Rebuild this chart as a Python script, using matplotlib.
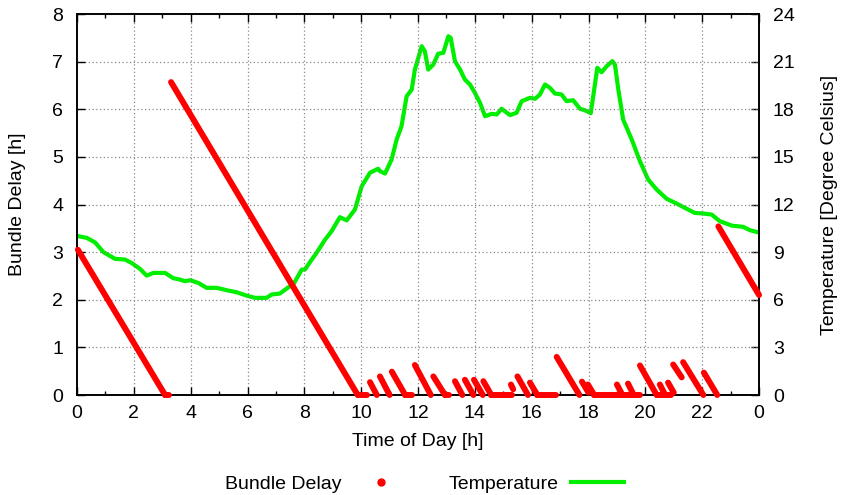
import matplotlib
matplotlib.use("Agg")
import matplotlib.pyplot as plt
from matplotlib.lines import Line2D
from matplotlib.ticker import MultipleLocator

plt.rcParams['font.family'] = ['Liberation Sans', 'DejaVu Sans']
plt.rcParams['font.size'] = 14

# ---- Bundle delay: sawtooth segments (start time, start delay, end time, end delay) ----
delay_t0 = [0.03, 3.10, 3.31, 9.88, 10.31, 10.66, 11.08, 11.55, 11.89, 12.54, 12.95,
            13.30, 13.65, 13.97, 14.30, 14.58, 15.27, 15.50, 15.94, 16.20, 16.88,
            17.77, 17.98, 18.20, 19.00, 19.39, 19.81, 20.40, 20.51, 20.80, 20.98,
            21.33, 22.06, 22.57]
delay_d0 = [3.05, 0.00, 6.57, 0.00, 0.27, 0.39, 0.49, 0.00, 0.63, 0.39, 0.00,
            0.29, 0.32, 0.32, 0.29, 0.00, 0.22, 0.39, 0.26, 0.00, 0.80,
            0.28, 0.22, 0.00, 0.22, 0.24, 0.62, 0.00, 0.22, 0.26, 0.64,
            0.69, 0.47, 3.54]
delay_t1 = [3.10, 3.25, 9.88, 10.20, 10.55, 11.00, 11.55, 11.79, 12.45, 12.95, 13.10,
            13.56, 13.95, 14.28, 14.58, 15.30, 15.35, 15.87, 16.20, 16.85, 17.68,
            18.00, 18.20, 19.80, 19.15, 19.55, 20.40, 20.90, 20.70, 21.00, 21.28,
            22.04, 22.53, 24.00]
delay_d1 = [0.00, 0.00, 0.00, 0.00, 0.00, 0.00, 0.00, 0.00, 0.00, 0.00, 0.00,
            0.00, 0.00, 0.00, 0.00, 0.00, 0.12, 0.00, 0.00, 0.00, 0.00,
            0.05, 0.00, 0.00, 0.05, 0.05, 0.00, 0.00, 0.00, 0.05, 0.37,
            0.00, 0.00, 2.10]

# ---- Temperature ----
temp_t = [0.05, 0.34, 0.63, 0.93, 1.34, 1.69, 1.92, 2.22, 2.45, 2.69, 3.10, 3.39, 3.62,
          3.80, 3.98, 4.27, 4.56, 4.92, 5.27, 5.62, 5.97, 6.26, 6.67, 6.85, 7.14, 7.49,
          7.61, 7.91, 8.02, 8.26, 8.43, 8.73, 8.96, 9.25, 9.49, 9.78, 10.02, 10.31,
          10.49, 10.60, 10.66, 10.84, 11.07, 11.25, 11.42, 11.60, 11.78, 11.89, 12.13,
          12.24, 12.36, 12.54, 12.71, 12.89, 13.07, 13.15, 13.30, 13.48, 13.65, 13.83,
          14.00, 14.18, 14.36, 14.59, 14.77, 14.94, 15.24, 15.47, 15.65, 15.94, 16.12,
          16.29, 16.47, 16.64, 16.82, 17.05, 17.23, 17.46, 17.70, 17.87, 18.08, 18.31,
          18.46, 18.64, 18.84, 18.93, 19.05, 19.22, 19.52, 19.81, 20.10, 20.40, 20.75,
          21.10, 21.39, 21.74, 22.04, 22.33, 22.62, 23.04, 23.45, 23.68, 23.97]
temp_c = [10.00, 9.90, 9.62, 9.00, 8.58, 8.53, 8.32, 7.94, 7.52, 7.69, 7.69, 7.36, 7.27,
          7.17, 7.23, 7.06, 6.75, 6.75, 6.60, 6.47, 6.26, 6.12, 6.12, 6.33, 6.39, 6.85,
          6.96, 7.90, 7.90, 8.53, 8.95, 9.79, 10.32, 11.20, 11.00, 11.68, 13.15, 14.00,
          14.16, 14.25, 14.10, 13.95, 14.83, 16.10, 16.93, 18.82, 19.24, 20.50, 21.97,
          21.66, 20.50, 20.82, 21.50, 21.55, 22.60, 22.50, 21.03, 20.50, 19.87, 19.56,
          19.04, 18.41, 17.56, 17.71, 17.67, 18.03, 17.63, 17.78, 18.51, 18.72, 18.66,
          18.93, 19.56, 19.35, 18.99, 18.93, 18.51, 18.57, 18.03, 17.94, 17.75, 20.61,
          20.33, 20.71, 21.03, 20.82, 19.24, 17.35, 16.10, 14.73, 13.57, 12.94, 12.36,
          12.06, 11.79, 11.47, 11.43, 11.37, 10.95, 10.67, 10.59, 10.38, 10.25]

x_ticks = [0, 2, 4, 6, 8, 10, 12, 14, 16, 18, 20, 22, 24]
x_labels = ['0', '2', '4', '6', '8', '10', '12', '14', '16', '18', '20', '22', '0']

W, H = 843, 495
fig = plt.figure(figsize=(W / 100, H / 100), dpi=100)
L, R, B, T = 77, 759, 395, 14
ax = fig.add_axes([L / W, (H - B) / H, (R - L) / W, (B - T) / H])
ax2 = ax.twinx()

RED = '#ff0000'
GREEN = '#00ee00'

for t0, d0, t1, d1 in zip(delay_t0, delay_d0, delay_t1, delay_d1):
    ax.plot([t0, t1], [d0, d1], color=RED, lw=4.3, solid_capstyle='round',
            clip_on=False, zorder=3)

ax2.plot(temp_t, temp_c, color=GREEN, lw=3.0, solid_joinstyle='round', zorder=2)

ax.set_xlim(0, 24)
ax.set_ylim(0, 8)
ax2.set_ylim(0, 24)
ax.set_xticks(x_ticks)
ax.set_xticklabels(x_labels)
ax.xaxis.set_minor_locator(MultipleLocator(1))
ax.set_yticks(range(0, 9))
ax2.set_yticks(range(0, 25, 3))

ax.grid(True, which='major', color='#888888', linestyle=(0, (1, 2)), lw=0.9)
ax.set_axisbelow(True)
ax.set_zorder(ax2.get_zorder() + 1)
ax.patch.set_visible(False)

ax.tick_params(axis='x', which='major', direction='in', length=6, width=1,
               top=True, pad=7)
ax.tick_params(axis='x', which='minor', direction='in', length=3, width=1, top=True)
ax.tick_params(axis='y', which='major', direction='in', length=6, width=1,
               right=False, pad=10)
ax2.tick_params(axis='y', direction='in', length=6, width=1, pad=10)

for a in (ax, ax2):
    for s in a.spines.values():
        s.set_linewidth(1.2)
        s.set_color('black')

fig.text(418 / W, 1 - 441 / H, 'Time of Day [h]', ha='center', va='center')
fig.text(18 / W, 1 - 204.5 / H, 'Bundle Delay [h]', ha='center', va='center',
         rotation=90)
fig.text(829 / W, 1 - 204.5 / H, 'Temperature [Degree Celsius]', ha='center',
         va='center', rotation=90)

handles = [Line2D([], [], color=RED, marker='o', markersize=5, linestyle='None'),
           Line2D([], [], color=GREEN, lw=3)]
fig.legend(handles, ['Bundle Delay', 'Temperature'], loc='center',
           bbox_to_anchor=(424.5 / W, 11 / H), ncol=2, frameon=False,
           markerfirst=False, handlelength=2.75, handletextpad=0.65,
           columnspacing=2.1, borderpad=0, borderaxespad=0)

fig.savefig('out.png', dpi=100)
